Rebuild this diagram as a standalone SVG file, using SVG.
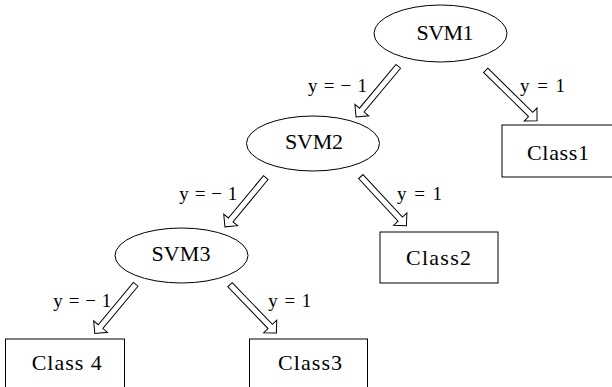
<svg xmlns="http://www.w3.org/2000/svg" width="612" height="387" viewBox="0 0 612 387">
<style>
.shape{fill:#fff;stroke:#000;stroke-width:1}
.arrow{fill:#fff;stroke:#000;stroke-width:1;stroke-linejoin:miter}
.node{font-family:"Liberation Serif",serif;font-size:22px;fill:#000;text-anchor:middle}
.lbl{font-family:"Liberation Serif",serif;font-size:19px;fill:#000}
</style>
<rect width="612" height="387" fill="#fff"/>
<g id="connectors">
<polygon class="arrow" transform="translate(398.3,66.3) rotate(129.8)" points="0,-3 57,-3 57,-9 66,0 57,9 57,3 0,3"/>
<polygon class="arrow" transform="translate(485.7,70.3) rotate(44.5)" points="0,-3 63,-3 63,-9 72,0 63,9 63,3 0,3"/>
<polygon class="arrow" transform="translate(265.8,177.6) rotate(129.7)" points="0,-3 55,-3 55,-9 64,0 55,9 55,3 0,3"/>
<polygon class="arrow" transform="translate(360.8,176.6) rotate(47.1)" points="0,-3 58,-3 58,-9 67,0 58,9 58,3 0,3"/>
<polygon class="arrow" transform="translate(135.7,284.3) rotate(129.7)" points="0,-3 55,-3 55,-9 64,0 55,9 55,3 0,3"/>
<polygon class="arrow" transform="translate(230,284.7) rotate(46.1)" points="0,-3 58,-3 58,-9 67,0 58,9 58,3 0,3"/>
<text class="lbl" x="308" y="92" textLength="59">y = − 1</text>
<text class="lbl" x="520" y="92" textLength="45">y = 1</text>
<text class="lbl" x="179.3" y="200" textLength="58">y = − 1</text>
<text class="lbl" x="397" y="200" textLength="45">y = 1</text>
<text class="lbl" x="53.3" y="307" textLength="58">y = − 1</text>
<text class="lbl" x="268.3" y="307" textLength="43">y = 1</text>
</g>
<g id="svm1">
<ellipse class="shape" cx="440.5" cy="33.5" rx="66.5" ry="28.5"/>
<text class="node" x="445" y="40" textLength="57">SVM1</text>
</g>
<g id="svm2">
<ellipse class="shape" cx="313" cy="143.5" rx="66.5" ry="27.5"/>
<text class="node" x="314" y="149" textLength="58">SVM2</text>
</g>
<g id="svm3">
<ellipse class="shape" cx="181.5" cy="255.5" rx="66.5" ry="27.5"/>
<text class="node" x="181" y="261" textLength="59">SVM3</text>
</g>
<g id="class1">
<rect class="shape" x="502" y="125" width="115" height="52"/>
<text class="node" x="558" y="159.5" textLength="62">Class1</text>
</g>
<g id="class2">
<rect class="shape" x="380" y="232" width="118" height="51"/>
<text class="node" x="438.5" y="265" textLength="65">Class2</text>
</g>
<g id="class4">
<rect class="shape" x="5.5" y="339" width="119" height="60"/>
<text class="node" x="66.7" y="370" textLength="70">Class 4</text>
</g>
<g id="class3">
<rect class="shape" x="249.5" y="339" width="118" height="60"/>
<text class="node" x="310" y="370" textLength="64">Class3</text>
</g>
</svg>
